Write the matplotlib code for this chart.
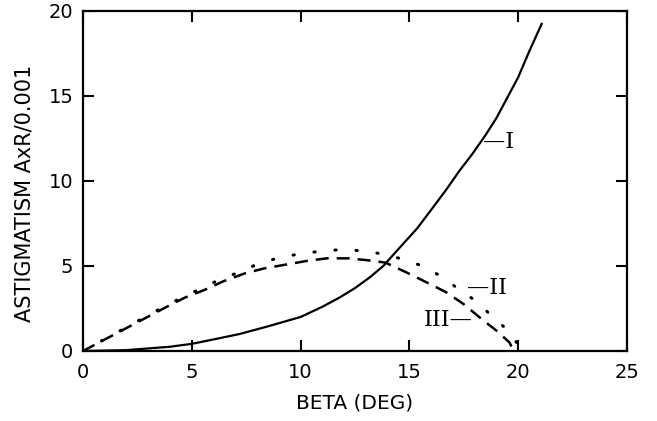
import matplotlib
matplotlib.use('Agg')
import matplotlib.pyplot as plt

# curve I (solid)
beta_1 = [0, 2, 4, 5, 6, 7.2, 8.5, 10, 11, 11.8, 12.5, 13.2, 13.8, 14.5, 15.35, 16.0, 16.7, 17.3, 17.9, 18.5, 19.0, 19.5, 20.0, 20.5, 21.1]
astig_1 = [0, 0.05, 0.25, 0.42, 0.68, 1.0, 1.45, 2.0, 2.6, 3.15, 3.7, 4.35, 5.0, 6.0, 7.2, 8.3, 9.5, 10.6, 11.6, 12.7, 13.7, 14.9, 16.1, 17.6, 19.3]

# curve II (dotted)
beta_2 = [0, 2, 4, 5.3, 6.2, 7.1, 8.0, 8.9, 9.9, 10.8, 11.8, 12.8, 13.8, 14.7, 15.6, 16.45, 17.2, 18.1, 18.75, 19.45, 20.05]
astig_2 = [0, 1.4, 2.8, 3.6, 4.15, 4.6, 5.1, 5.45, 5.7, 5.85, 5.96, 5.9, 5.7, 5.4, 5.0, 4.4, 3.7, 2.9, 2.1, 1.3, 0.3]

# curve III (dashed)
beta_3 = [0, 2, 4, 4.7, 5.6, 6.45, 7.4, 8.3, 9.4, 10.3, 11.2, 12.2, 13.0, 13.9, 14.9, 15.85, 16.7, 17.5, 18.3, 19.0, 19.6, 19.8]
astig_3 = [0, 1.35, 2.7, 3.15, 3.6, 4.1, 4.55, 4.85, 5.1, 5.3, 5.45, 5.45, 5.35, 5.2, 4.6, 4.0, 3.45, 2.75, 1.9, 1.2, 0.5, 0]

x_ticks = [0, 5, 10, 15, 20, 25]
y_ticks = [0, 5, 10, 15, 20]

plt.rcParams['font.family'] = ['DejaVu Sans']

fig = plt.figure(figsize=(6.57, 4.21), dpi=100)
ax = fig.add_axes([0.1263, 0.1663, 0.828, 0.8076])

ax.plot(beta_1, astig_1, color='black', lw=1.6, solid_capstyle='butt')
ax.plot(beta_2, astig_2, color='black', lw=2.2, linestyle=(0, (0.4, 6.5)), dash_capstyle='round')
ax.plot(beta_3, astig_3, color='black', lw=1.8, linestyle=(0, (5.2, 3.2)))

ax.set_xlim(0, 25)
ax.set_ylim(0, 20)
ax.set_xticks(x_ticks)
ax.set_yticks(y_ticks)
ax.tick_params(direction='in', length=8, width=1.5, top=True, right=True,
               labelsize=14)
ax.tick_params(axis='x', pad=9)
ax.tick_params(axis='y', pad=7)
for s in ax.spines.values():
    s.set_linewidth(1.6)

ax.set_xlabel('BETA (DEG)', fontsize=14.5, labelpad=8)
ax.set_ylabel('ASTIGMATISM AxR/0.001', fontsize=15)
ax.yaxis.set_label_coords(-0.09, 0.465)

ax.text(18.4, 12.3, '\u2014I', family='DejaVu Serif', fontsize=16, va='center', ha='left')
ax.text(17.65, 3.7, '\u2014II', family='DejaVu Serif', fontsize=16, va='center', ha='left')
ax.text(17.9, 1.8, 'III\u2014', family='DejaVu Serif', fontsize=16, va='center', ha='right')

fig.savefig('out.png', dpi=100)
